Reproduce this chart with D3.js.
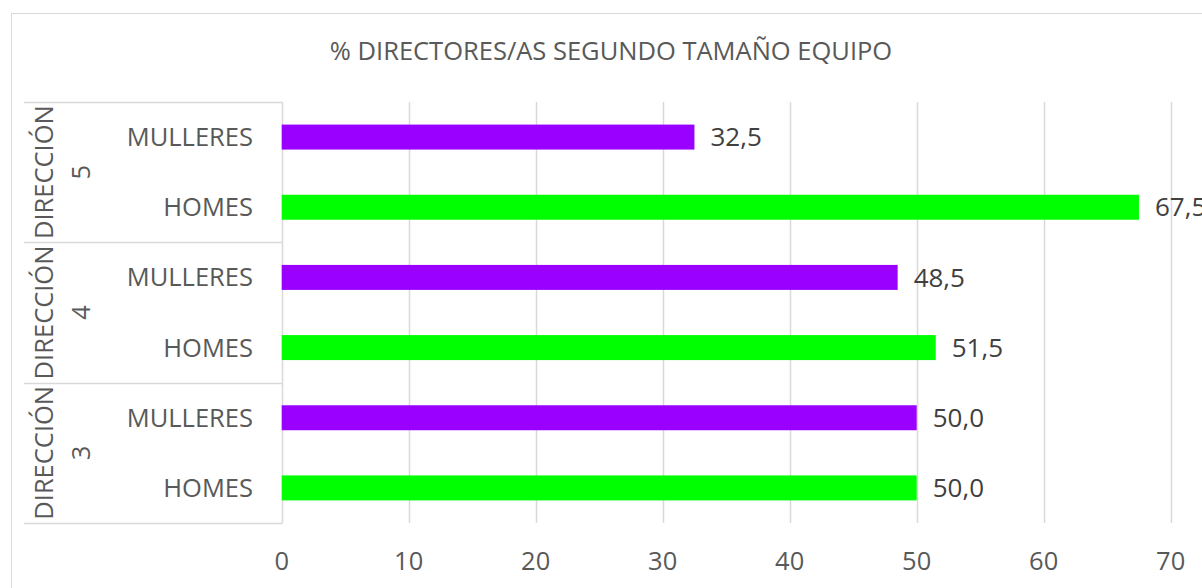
<!DOCTYPE html>
<html>
<head>
<meta charset="UTF-8" />
<title>% Directores/as segundo tamaño equipo</title>
<script src="https://d3js.org/d3.v7.min.js"></script>
<style>
  body { margin: 0; background: #fff; }
  text { font-family: "Open Sans", "Noto Sans", sans-serif; }
</style>
</head>
<body>
<div id="main"></div>
<script type="text/javascript">

var title = '% DIRECTORES/AS SEGUNDO TAMAÑO EQUIPO';
var groups = ['5', '4', '3'];          // DIRECCIÓN n, top to bottom
var sexes = ['MULLERES', 'HOMES'];
var mulleres = [32.5, 48.5, 50.0];
var homes = [67.5, 51.5, 50.0];
var xTicks = [0, 10, 20, 30, 40, 50, 60, 70];

var width = 1202, height = 588;
var plotLeft = 281.7, plotRight = 1170.7, plotTop = 102, plotBottom = 523;
var fontSize = '25.5px';
var colors = { MULLERES: '#9900ff', HOMES: '#00ff00' };

var rows = [];
groups.forEach(function (g, i) {
  rows.push({ group: g, sex: 'MULLERES', value: mulleres[i] });
  rows.push({ group: g, sex: 'HOMES', value: homes[i] });
});

var svg = d3.select('#main').append('svg')
  .attr('width', width).attr('height', height);

// chart frame
svg.append('rect')
  .attr('x', 11.5).attr('y', 13.5)
  .attr('width', width).attr('height', height)
  .attr('fill', 'none').attr('stroke', '#d9d9d9');

var x = d3.scaleLinear().domain([0, 70]).range([plotLeft, plotRight]);
var y = d3.scaleBand()
  .domain(rows.map(function (d, i) { return i; }))
  .range([plotTop, plotBottom])
  .paddingInner(0.644).paddingOuter(0.322);
var yg = d3.scaleBand().domain(groups).range([plotTop, plotBottom]);

// title
svg.append('text')
  .attr('x', 611).attr('y', 60)
  .attr('text-anchor', 'middle')
  .attr('fill', '#595959')
  .style('font-size', '25.5px')
  .text(title);

// gridlines
svg.append('g').selectAll('line')
  .data(xTicks.slice(1))
  .enter().append('line')
  .attr('x1', function (d) { return Math.round(x(d)) + 0.5; })
  .attr('x2', function (d) { return Math.round(x(d)) + 0.5; })
  .attr('y1', plotTop).attr('y2', plotBottom)
  .attr('stroke', '#d9d9d9').attr('stroke-width', 1.5);

// x tick labels
svg.append('g').selectAll('text')
  .data(xTicks)
  .enter().append('text')
  .attr('x', function (d) { return x(d); })
  .attr('y', 570)
  .attr('text-anchor', 'middle')
  .attr('fill', '#595959')
  .style('font-size', fontSize)
  .text(function (d) { return d; });

// category axis: vertical line + group separators
var axis = svg.append('g').attr('stroke', '#d9d9d9').attr('stroke-width', 1.5);
axis.append('line')
  .attr('x1', Math.round(plotLeft) + 0.5).attr('x2', Math.round(plotLeft) + 0.5)
  .attr('y1', plotTop).attr('y2', plotBottom);
axis.selectAll('.sep')
  .data([plotTop].concat(groups.map(function (g) { return yg(g) + yg.bandwidth(); })))
  .enter().append('line')
  .attr('class', 'sep')
  .attr('x1', 24).attr('x2', Math.round(plotLeft) + 0.5)
  .attr('y1', function (d) { return Math.round(d) + 0.5; })
  .attr('y2', function (d) { return Math.round(d) + 0.5; });

// bars
svg.append('g').selectAll('rect')
  .data(rows)
  .enter().append('rect')
  .attr('x', x(0))
  .attr('y', function (d, i) { return y(i); })
  .attr('width', function (d) { return x(d.value) - x(0); })
  .attr('height', y.bandwidth())
  .attr('fill', function (d) { return colors[d.sex]; });

// value labels
svg.append('g').selectAll('text')
  .data(rows)
  .enter().append('text')
  .attr('x', function (d) { return x(d.value) + 16; })
  .attr('y', function (d, i) { return y(i) + y.bandwidth() / 2; })
  .attr('dy', '0.35em')
  .attr('fill', '#404040')
  .style('font-size', '26px')
  .text(function (d) { return d.value.toFixed(1).replace('.', ','); });

// sex labels
svg.append('g').selectAll('text')
  .data(rows)
  .enter().append('text')
  .attr('x', 253)
  .attr('y', function (d, i) { return y(i) + y.bandwidth() / 2; })
  .attr('dy', '0.35em')
  .attr('text-anchor', 'end')
  .attr('fill', '#595959')
  .style('font-size', fontSize)
  .text(function (d) { return d.sex; });

// group labels, rotated
var gl = svg.append('g').selectAll('g')
  .data(groups)
  .enter().append('g')
  .attr('transform', function (g) {
    return 'translate(0,' + (yg(g) + yg.bandwidth() / 2) + ')';
  });
gl.append('text')
  .attr('transform', 'translate(44,0) rotate(-90)')
  .attr('text-anchor', 'middle').attr('dy', '0.35em')
  .attr('fill', '#595959').style('font-size', fontSize)
  .text('DIRECCIÓN');
gl.append('text')
  .attr('transform', 'translate(81,0) rotate(-90)')
  .attr('text-anchor', 'middle').attr('dy', '0.35em')
  .attr('fill', '#595959').style('font-size', fontSize)
  .text(function (g) { return g; });

</script>
</body>
</html>
